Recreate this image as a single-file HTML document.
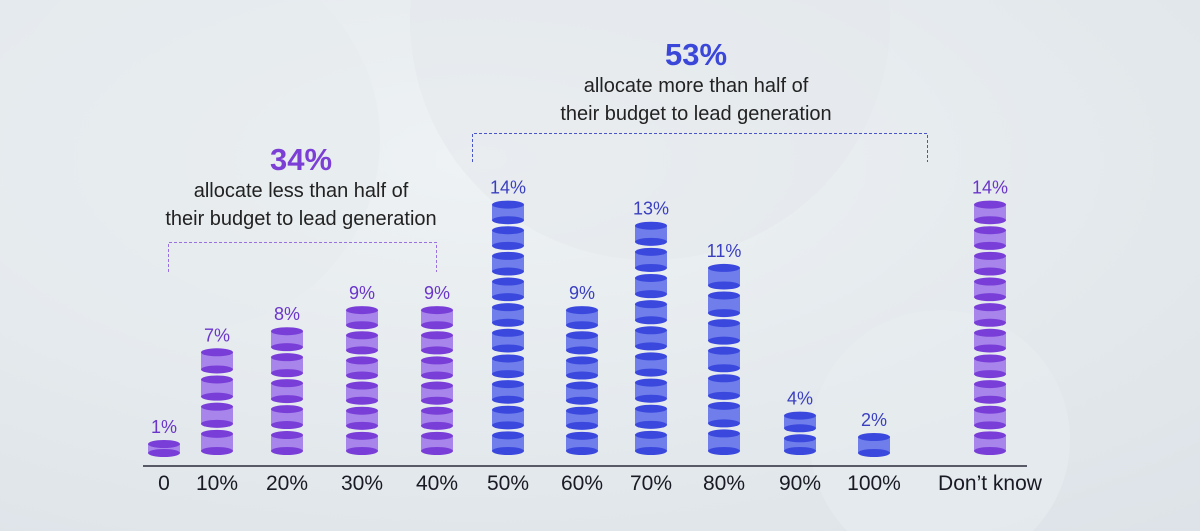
<!DOCTYPE html>
<html><head><meta charset="utf-8"><style>
html,body{margin:0;width:1200px;height:531px;overflow:hidden;font-family:"Liberation Sans",sans-serif;}
svg{display:block}
</style></head><body>
<svg id="chart" width="1200" height="531" viewBox="0 0 1200 531" xmlns="http://www.w3.org/2000/svg">
<defs>
<radialGradient id="bg" cx="0.4" cy="0.3" r="0.9"><stop offset="0" stop-color="#eef2f4"/><stop offset="1" stop-color="#dde3e8"/></radialGradient>
</defs>
<rect width="1200" height="531" fill="url(#bg)"/>
<circle cx="190" cy="140" r="190" fill="#e6ebee" opacity="0.6"/>
<circle cx="650" cy="20" r="240" fill="#e3e8ec" opacity="0.5"/>
<circle cx="940" cy="440" r="130" fill="#e8edf0" opacity="0.6"/>
<g id="marks"></g>
<line x1="143" y1="466" x2="1027" y2="466" stroke="#2a2a3a" stroke-width="1.5"/>
<text x="301" y="170" text-anchor="middle" font-size="31" font-weight="bold" fill="#7b3fd6">34%</text>
<text x="301" y="197" text-anchor="middle" font-size="20" fill="#222">allocate less than half of</text>
<text x="301" y="225" text-anchor="middle" font-size="20" fill="#222">their budget to lead generation</text>
<path d="M168.5 272V242.5H436.5V272" fill="none" stroke="#9a72e0" stroke-dasharray="3,2"/>
<text x="696" y="65" text-anchor="middle" font-size="31" font-weight="bold" fill="#3b47d9">53%</text>
<text x="696" y="92" text-anchor="middle" font-size="20" fill="#222">allocate more than half of</text>
<text x="696" y="120" text-anchor="middle" font-size="20" fill="#222">their budget to lead generation</text>
<path d="M472.5 162V133.5H927.5V162" fill="none" stroke="#4a55c8" stroke-dasharray="3,2"/>
</svg>
<script>
const categories=["0","10%","20%","30%","40%","50%","60%","70%","80%","90%","100%","Don’t know"];
const values=[1,7,8,9,9,14,9,13,11,4,2,14];
const groups=["p","p","p","p","p","b","b","b","b","b","b","p"];
const centers=[164,217,287,362,437,508,582,651,724,800,874,990];
const base=457, w=32;
function yHeight(v){return v<3?10+7*v:21.1*v-39;}
const NS="http://www.w3.org/2000/svg";
const g=document.getElementById('marks');
function mk(t,a){const e=document.createElementNS(NS,t);for(const k in a)e.setAttribute(k,a[k]);return e;}
categories.forEach((c,i)=>{
  const v=values[i],cx=centers[i],h=yHeight(v);
  const dark=groups[i]==="p"?"#7a3ed8":"#3b48de",light=groups[i]==="p"?"#a785ea":"#6f7eea",lab=groups[i]==="p"?"#6a35c9":"#3a3fc0";
  const stack=mk('g',{});
  
  
  const n=Math.max(1,Math.round(h/26)),p=h/n;
  for(let k=0;k<n;k++){
    const top=base-h+k*p, bot=top+p-(n>1?2:0);
    stack.appendChild(mk('rect',{x:cx-w/2,y:top+4,width:w,height:Math.max(0,bot-top-8),fill:light}));
    stack.appendChild(mk('ellipse',{cx:cx,cy:bot-4,rx:w/2,ry:4,fill:dark}));
    stack.appendChild(mk('ellipse',{cx:cx,cy:top+4,rx:w/2,ry:4,fill:dark}));
  }
  g.appendChild(stack);
  const t=mk('text',{x:cx,y:base-h-7,'text-anchor':'middle','font-size':18,fill:lab});
  
  
  t.textContent=v+"%";g.appendChild(t);
  const x=mk('text',{x:cx,y:490,'text-anchor':'middle','font-size':21,fill:'#1a1a24'});
  
  
  x.textContent=c;g.appendChild(x);
});
</script>
</body></html>
